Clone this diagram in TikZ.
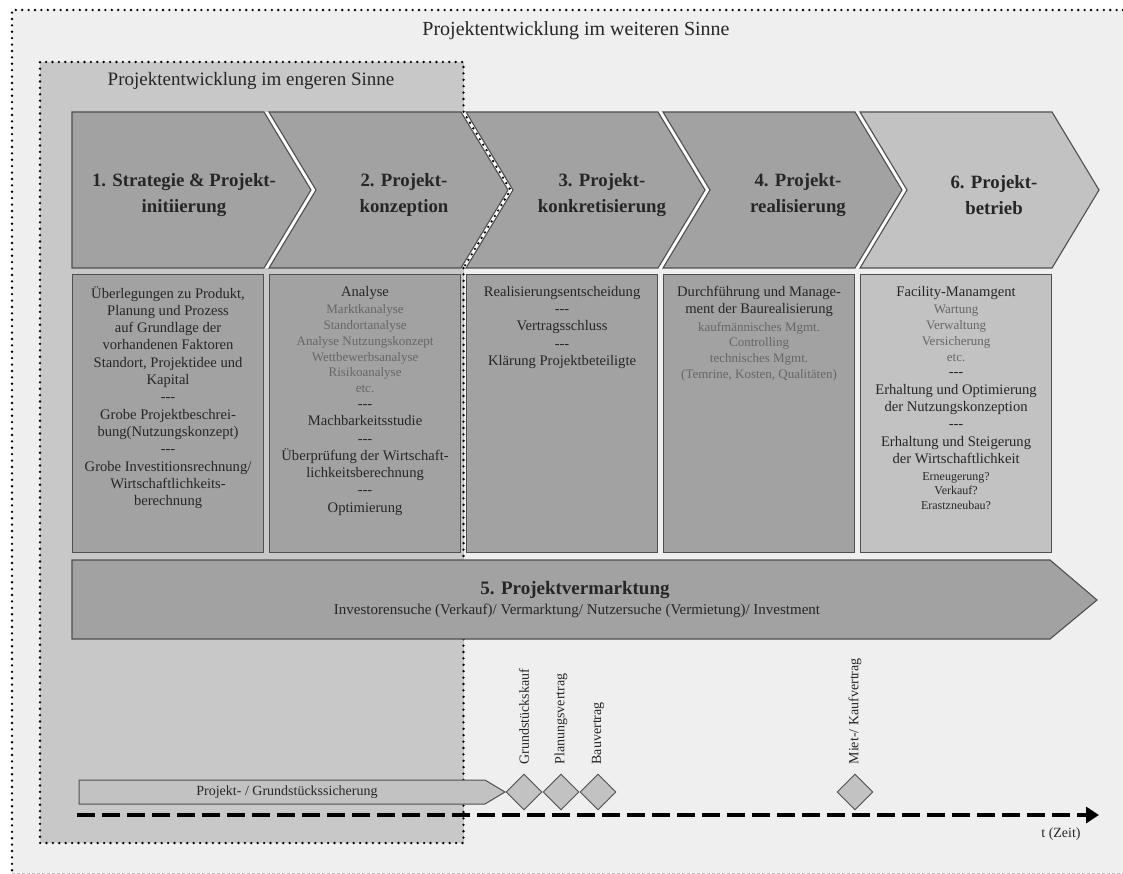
\documentclass[tikz,border=0pt]{standalone}
\usepackage{fontspec}
\setmainfont{Liberation Serif}
\usetikzlibrary{positioning,shapes.geometric,arrows.meta}

\definecolor{outerbg}{HTML}{EFEFEF}
\definecolor{innerbg}{HTML}{C8C8C8}
\definecolor{phasefill}{HTML}{A2A2A2}
\definecolor{lightfill}{HTML}{C2C2C2}
\definecolor{edgegray}{HTML}{4F4F4F}
\definecolor{textdark}{HTML}{262626}
\definecolor{textsub}{HTML}{666666}

% grey detail lines inside the boxes
\newcommand{\lite}[1]{{\color{textsub}\fontsize{13}{15.5}\selectfont #1}}
\newcommand{\smallq}[1]{{\fontsize{12}{14}\selectfont #1}}
\newcommand{\sep}{{-}{-}{-}}

\begin{document}
\begin{tikzpicture}[x=1pt, y=-1pt,
    every node/.style={text=textdark, inner sep=0pt},
    framedots/.style={line width=2.6pt, line cap=round, dash pattern=on 0pt off 6.4pt},
    phase/.style={fill=phasefill, draw=edgegray, line width=1.1pt, line join=miter},
    heading/.style={align=center, font=\fontsize{18.8}{26}\selectfont\bfseries},
    infobox/.style={draw=edgegray, fill=phasefill, line width=1.1pt, anchor=north west,
        minimum width=191pt, minimum height=278pt},
    boxtext/.style={align=center, font=\fontsize{14.6}{17.3}\selectfont},
    title/.style={font=\fontsize{19}{22}\selectfont},
    milestone/.style={diamond, draw=edgegray, fill=lightfill, line width=0.9pt,
        minimum size=36pt, inner sep=0pt},
    mslabel/.style={rotate=90, anchor=west, font=\fontsize{14}{16}\selectfont}
]
\useasboundingbox (0,0) rectangle (1123,874);

% Outer frame
\fill[outerbg] (12,10) rectangle (1123,873);
\draw[framedots] (1123,10) -- (12,10) -- (12,873);
\draw[gray!50, line width=0.8pt, dash pattern=on 3pt off 2pt] (12,873) -- (1123,873);
\node[title, font=\fontsize{20}{22}\selectfont] (outer) at (576,31) {Projektentwicklung im weiteren Sinne};

% Inner frame
\fill[innerbg] (40,62) rectangle (463.5,843);
\node[title] (inner) at (251,81) {Projektentwicklung im engeren Sinne};

% White gaps between the phases
\foreach \l in {269,466,663,860}
  \fill[white] (\l-5,112) -- (\l,112) -- (\l+47,190) -- (\l,268) -- (\l-5,268) -- (\l+42,190) -- cycle;

% Phase chevrons
\draw[phase] (72,112) -- (264,112) -- (311,190) -- (264,268) -- (72,268) -- cycle;
\draw[phase] (269,112) -- (461,112) -- (508,190) -- (461,268) -- (269,268) -- (316,190) -- cycle;
\draw[phase] (466,112) -- (658,112) -- (705,190) -- (658,268) -- (466,268) -- (513,190) -- cycle;
\draw[phase] (663,112) -- (855,112) -- (902,190) -- (855,268) -- (663,268) -- (710,190) -- cycle;
\draw[phase, fill=lightfill] (860,112) -- (1052,112) -- (1099,190) -- (1052,268) -- (860,268) -- (907,190) -- cycle;

\node[heading] (h1) at (184,195) {1. Strategie \& Projekt-\\initiierung};
\node[heading] (h2) at (404,195) {2. Projekt-\\konzeption};
\node[heading] (h3) at (602,195) {3. Projekt-\\konkretisierung};
\node[heading] (h4) at (798,195) {4. Projekt-\\realisierung};
\node[heading] (h6) at (994,195) {6. Projekt-\\betrieb};

% Detail boxes
\node[infobox] (b1) at (72,274) {};
\node[infobox] (b2) at (269,274) {};
\node[infobox] (b3) at (466,274) {};
\node[infobox] (b4) at (663,274) {};
\node[infobox, fill=lightfill] (b6) at (860,274) {};

\node[boxtext, below=12pt of b1.north] (t1) {%
  Überlegungen zu Produkt,\\Planung und Prozess\\auf Grundlage der\\vorhandenen Faktoren\\%
  Standort, Projektidee und\\Kapital\\\sep\\Grobe Projektbeschrei-\\bung(Nutzungskonzept)\\\sep\\%
  Grobe Investitionsrechnung/\\Wirtschaftlichkeits-\\berechnung};
\node[boxtext, below=12pt of b2.north] (t2) {%
  Analyse\\\lite{Marktkanalyse}\\[-1.5pt]\lite{Standortanalyse}\\[-1.5pt]%
  \lite{Analyse Nutzungskonzept}\\[-1.5pt]\lite{Wettbewerbsanalyse}\\[-1.5pt]%
  \lite{Risikoanalyse}\\[-1.5pt]\lite{etc.}\\[-1.5pt]\sep\\Machbarkeitsstudie\\\sep\\%
  Überprüfung der Wirtschaft-\\lichkeitsberechnung\\\sep\\Optimierung};
\node[boxtext, below=12pt of b3.north] (t3) {%
  Realisierungsentscheidung\\\sep\\Vertragsschluss\\\sep\\Klärung Projektbeteiligte};
\node[boxtext, below=12pt of b4.north] (t4) {%
  Durchführung und Manage-\\ment der Baurealisierung\\\lite{kaufmännisches Mgmt.}\\[-1.5pt]%
  \lite{Controlling}\\[-1.5pt]\lite{technisches Mgmt.}\\[-1.5pt]\lite{(Temrine, Kosten, Qualitäten)}};
\node[boxtext, below=12pt of b6.north] (t6) {%
  Facility-Manamgent\\\lite{Wartung}\\[-1.5pt]\lite{Verwaltung}\\[-1.5pt]\lite{Versicherung}\\[-1.5pt]%
  \lite{etc.}\\[-1.5pt]\sep\\Erhaltung und Optimierung\\der Nutzungskonzeption\\\sep\\%
  Erhaltung und Steigerung\\der Wirtschaftlichkeit\\\smallq{Erneugerung?}\\[-3pt]%
  \smallq{Verkauf?}\\[-3pt]\smallq{Erastzneubau?}};

% Inner frame border, running between phase 2 and 3
\draw[framedots] (463.5,268) -- (463.5,843) -- (40,843) -- (40,62) -- (463.5,62)
  -- (463.5,112) -- (510.5,190) -- (463.5,268);

% Marketing runs alongside all phases
\draw[phase] (72,560) -- (1050,560) -- (1097,600) -- (1050,639) -- (72,639) -- cycle;
\node[font=\fontsize{19}{22}\selectfont\bfseries] (p5) at (575,590) {5. Projektvermarktung};
\node[font=\fontsize{15}{18}\selectfont] (p5sub) at (577,611)
  {Investorensuche (Verkauf)/ Vermarktung/ Nutzersuche (Vermietung)/ Investment};

% Time axis and milestones
\coordinate (t0) at (77,815);
\coordinate (tend) at (1099,815);
\draw[line width=4.5pt, dash pattern=on 18pt off 7pt, -{Triangle[length=13pt, width=16pt]}] (t0) -- (tend);
\node[font=\fontsize{14}{16}\selectfont] (zeit) at (1061,834) {t (Zeit)};

\draw[draw=edgegray, fill=lightfill, line width=1pt] (79,780) -- (485,780) -- (505,792) -- (485,804) -- (79,804) -- cycle;
\node[font=\fontsize{14}{16}\selectfont] (sich) at (287,792) {Projekt- / Grundstückssicherung};

\node[milestone] (m1) at (524,792) {};
\node[milestone] (m2) at (561,792) {};
\node[milestone] (m3) at (598,792) {};
\node[milestone] (m4) at (855,792) {};
\node[mslabel] (l1) at ([yshift=9pt]m1.north) {Grundstückskauf};
\node[mslabel] (l2) at ([yshift=9pt]m2.north) {Planungsvertrag};
\node[mslabel] (l3) at ([yshift=9pt]m3.north) {Bauvertrag};
\node[mslabel] (l4) at ([yshift=9pt]m4.north) {Miet-/ Kaufvertrag};

\end{tikzpicture}
\end{document}
